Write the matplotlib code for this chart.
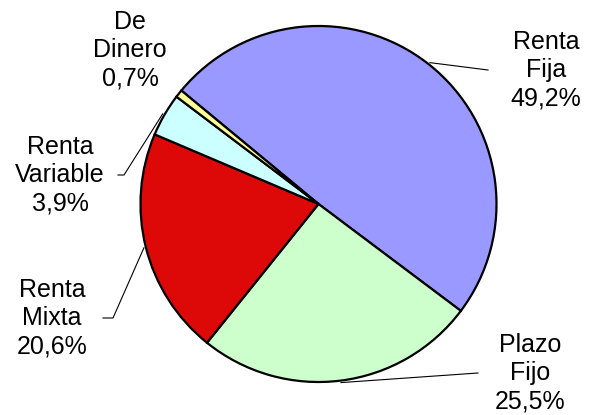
import numpy as np
import matplotlib.pyplot as plt

categories = ['Renta\nFija', 'Plazo\nFijo', 'Renta\nMixta', 'Renta\nVariable', 'De\nDinero']
shares = [49.2, 25.5, 20.6, 3.9, 0.7]
pct_labels = ['49,2%', '25,5%', '20,6%', '3,9%', '0,7%']
colors = ['#9999FF', '#CCFFCC', '#DD0808', '#CCFFFF', '#FFFF99']

W, H = 592, 415
fig = plt.figure(figsize=(W / 100, H / 100), dpi=100)
ax = fig.add_axes([0, 0, 1, 1])

cx, cy, r = 318.5, H - 204, 178
start = 140.4
wedges, _ = ax.pie(shares, colors=colors, startangle=start, counterclock=False,
                   center=(cx, cy), radius=r, frame=True,
                   wedgeprops=dict(edgecolor='black', linewidth=1.6))
ax.set_xlim(0, W)
ax.set_ylim(0, H)
ax.axis('off')

# label text centres and leader elbows (pixel coords, y from top)
text_pos = [(546, 70), (530, 373), (52, 318), (60, 175), (130, 50)]
elbows = [[(488, 70)], [(478, 373)], [(113, 318), (103, 318)], [(124, 175), (118, 175)], None]

for w, name, pct, (tx, ty), elb in zip(wedges, categories, pct_labels, text_pos, elbows):
    ax.text(tx, H - ty, name + '\n' + pct, ha='center', va='center',
            fontsize=18, family='Liberation Sans', linespacing=1.22)
    if elb is None:
        continue
    mid = np.deg2rad((w.theta1 + w.theta2) / 2)
    px = cx + (r + 2) * np.cos(mid)
    py = cy + (r + 2) * np.sin(mid)
    xs = [px] + [e[0] for e in elb]
    ys = [py] + [H - e[1] for e in elb]
    ax.plot(xs, ys, color='black', linewidth=0.8)

fig.savefig('out.png', dpi=100)
